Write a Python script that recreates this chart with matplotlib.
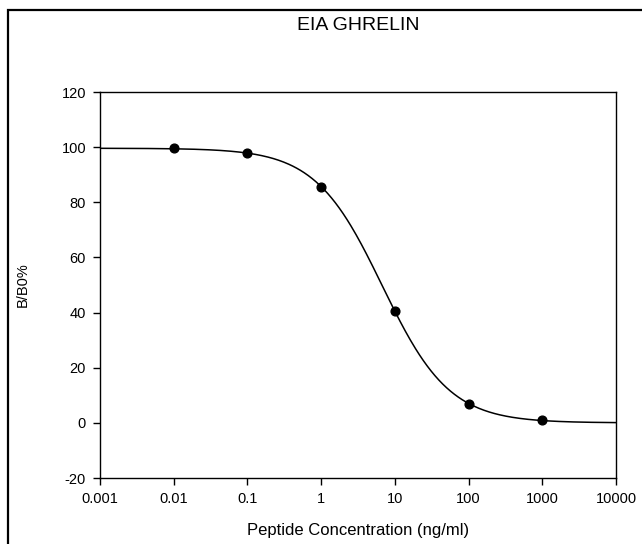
import numpy as np
import matplotlib
matplotlib.use('Agg')
import matplotlib.pyplot as plt
from matplotlib.patches import Rectangle

plt.rcParams['font.family'] = ['Liberation Sans', 'DejaVu Sans']
plt.rcParams['axes.unicode_minus'] = False  # plain hyphen for -20

# data
conc = [0.01, 0.1, 1, 10, 100, 1000]          # ng/ml
bb0 = [99.6, 97.8, 85.7, 40.5, 6.9, 0.9]       # B/B0 %

# 4-parameter logistic fit (as drawn in the original)
fit_top = 99.6
fit_bottom = 0.0
fit_ic50 = 6.73
fit_hill = 0.954

xticks = [0.001, 0.01, 0.1, 1, 10, 100, 1000, 10000]
xtick_labels = ['0.001', '0.01', '0.1', '1', '10', '100', '1000', '10000']
yticks = [-20, 0, 20, 40, 60, 80, 100, 120]

fig = plt.figure(figsize=(6.42, 5.44), dpi=100)
ax = fig.add_axes([100/642, 1-478/544, 516/642, 386/544])

xs = np.logspace(-3, 4, 400)
ys = fit_bottom + (fit_top - fit_bottom) / (1 + (xs / fit_ic50) ** fit_hill)
ax.plot(xs, ys, color='black', lw=1.1)
ax.plot(conc, bb0, 'o', color='black', markersize=6.3)

ax.set_xscale('log')
ax.set_xlim(0.001, 10000)
ax.set_ylim(-20, 120)
ax.set_xticks(xticks)
ax.set_xticklabels(xtick_labels)
ax.set_yticks(yticks)
ax.minorticks_off()
ax.tick_params(direction='out', length=5, width=1, labelsize=10.5, pad=5)
for s in ax.spines.values():
    s.set_linewidth(1)

ax.set_xlabel('Peptide Concentration (ng/ml)', fontsize=12, labelpad=12)
ax.set_ylabel('B/B0%', fontsize=10.5, labelpad=23)
fig.text(358/642, 1-25/544, 'EIA GHRELIN', fontsize=14, ha='center', va='center')

# outer frame of the original graph page (runs off the right and bottom edges)
fig.patches.append(Rectangle((8/642, -0.05), 1.1, 1.05 - 10/544,
                             transform=fig.transFigure, fill=False,
                             edgecolor='black', lw=1.6, clip_on=False))

fig.savefig('out.png', dpi=100)
